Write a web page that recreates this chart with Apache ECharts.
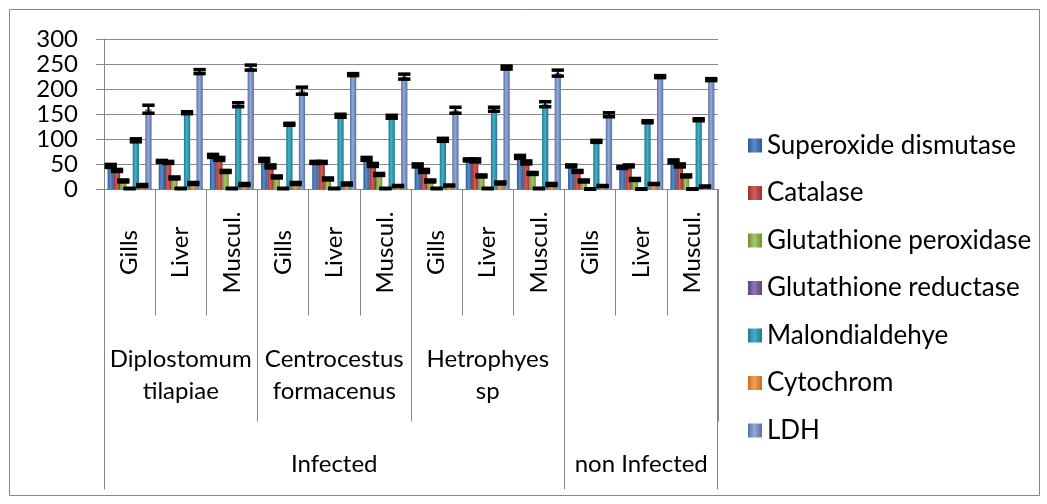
<!DOCTYPE html>
<html>
<head>
<meta charset="utf-8">
<style>
  html, body { margin: 0; padding: 0; background: #fff; }
  #main { width: 1047px; height: 504px; }
</style>
<script src="https://cdn.jsdelivr.net/npm/echarts@6/dist/echarts.min.js"></script>
</head>
<body>
<div id="main"></div>
<script>
// 分类
var organs = ['Gills', 'Liver', 'Muscul.', 'Gills', 'Liver', 'Muscul.', 'Gills', 'Liver', 'Muscul.', 'Gills', 'Liver', 'Muscul.'];
var parasites = ['Diplostomum\ntilapiae', 'Centrocestus\nformacenus', 'Hetrophyes\nsp', ''];
var groupNames = ['Infected', 'non Infected'];
var groupStart = [0, 9];   // 每组起始分类
var groupEnd = [9, 12];
var yTicks = [0, 300, 50];

var names = ['Superoxide dismutase', 'Catalase', 'Glutathione peroxidase', 'Glutathione reductase', 'Malondialdehye', 'Cytochrom', 'LDH'];

// 数值
var sod = [47, 56, 67, 59, 54, 61, 48, 59, 65, 47, 44, 56];
var cat = [38, 54, 61, 46, 54, 49, 37, 58, 54, 36, 47, 48];
var gpx = [17, 23, 36, 25, 21, 30, 17, 27, 32, 17, 20, 27];
var gr  = [2, 2, 2, 2, 2, 2, 2, 2, 2, 1, 1, 1];
var mda = [98, 153, 169, 130, 147, 145, 99, 160, 170, 96, 135, 139];
var cyt = [8, 12, 10, 12, 11, 7, 8, 13, 10, 7, 11, 6];
var ldh = [160, 235, 243, 197, 229, 225, 158, 243, 232, 149, 225, 219];

// 误差
var errSod = [3, 2, 3, 3, 2, 3, 3, 2, 3, 2, 2, 3];
var errCat = [2, 2, 3, 3, 2, 3, 3, 3, 3, 2, 2, 3];
var errGpx = [2, 2, 2, 2, 2, 2, 2, 2, 2, 2, 2, 2];
var errGr  = [0.5, 0.5, 0.5, 0.5, 0.5, 0.5, 0.5, 0.5, 0.5, 0.5, 0.5, 0.5];
var errMda = [3, 2, 4, 2, 3, 3, 3, 4, 5, 2, 2, 2];
var errCyt = [2, 2, 2, 2, 2, 1, 1, 2, 2, 1, 1, 1];
var errLdh = [8, 4, 5, 7, 2, 5, 6, 3, 6, 4, 2, 2];

var values = [sod, cat, gpx, gr, mda, cyt, ldh];
var errs = [errSod, errCat, errGpx, errGr, errMda, errCyt, errLdh];

var colors = [
    ['#2a5892', '#5a8ccc'],
    ['#982e2b', '#d2605c'],
    ['#6f8c35', '#a8c866'],
    ['#5b437c', '#8f74b2'],
    ['#1b7a8f', '#45afc8'],
    ['#c66d1c', '#f5a15a'],
    ['#5870a4', '#93a9d6']
];

var GAP = 0.14;
var fontFam = 'Lato, "Open Sans", sans-serif';

var myChart = echarts.init(document.getElementById('main'));

var series = names.map(function (n, i) {
    return {
        name: n,
        type: 'bar',
        xAxisIndex: 0,
        barGap: '0%',
        barCategoryGap: (GAP * 100) + '%',
        itemStyle: {
            color: new echarts.graphic.LinearGradient(0, 0, 1, 0, [
                {offset: 0, color: colors[i][0]},
                {offset: 0.45, color: colors[i][1]},
                {offset: 1, color: colors[i][0]}
            ])
        },
        data: values[i]
    };
});

var errData = [];
values.forEach(function (vals, k) {
    vals.forEach(function (v, c) {
        errData.push([c, k, v, errs[k][c]]);
    });
});

// 误差线
series.push({
    type: 'custom',
    xAxisIndex: 0,
    silent: true,
    z: 10,
    data: errData,
    renderItem: function (params, api) {
        var c = api.value(0), k = api.value(1), v = api.value(2), e = api.value(3);
        var p = api.coord([c, v]);
        var bandW = api.size([1, 0])[0];
        var usable = bandW * (1 - GAP);
        var bw = usable / names.length;
        var x = p[0] - usable / 2 + (k + 0.5) * bw;
        var yT = api.coord([c, v + e])[1];
        var yB = api.coord([c, Math.max(v - e, 0)])[1];
        var hw = bw / 2 + 3;
        var st = {stroke: '#000', lineWidth: 3.5};
        return {
            type: 'group',
            children: [
                {type: 'line', shape: {x1: x, y1: yT, x2: x, y2: yB}, style: {stroke: '#000', lineWidth: 2}},
                {type: 'line', shape: {x1: x - hw, y1: yT, x2: x + hw, y2: yT}, style: st},
                {type: 'line', shape: {x1: x - hw, y1: yB, x2: x + hw, y2: yB}, style: st}
            ]
        };
    }
});

var groupMid = groupNames.map(function (g, i) { return (groupStart[i] + groupEnd[i]) / 2; });
var tickStyle = {color: '#868686'};

var option = {
    animation: false,
    color: colors.map(function (c) { return c[1]; }),
    textStyle: {fontFamily: fontFam},
    grid: {left: 104, right: 329, top: 39, bottom: 314.5},
    legend: {
        orient: 'vertical',
        left: 748,
        top: 132,
        padding: 0,
        itemWidth: 14,
        itemHeight: 14,
        itemGap: 20.5,
        icon: 'rect',
        data: names,
        textStyle: {fontSize: 26, color: '#000', fontFamily: fontFam, lineHeight: 27}
    },
    xAxis: [
        {
            type: 'category',
            data: organs,
            axisLine: {lineStyle: tickStyle},
            axisTick: {show: true, length: 126, interval: 0, lineStyle: tickStyle},
            axisLabel: {rotate: 90, align: 'center', margin: 63, interval: 0, fontSize: 24, color: '#000'}
        },
        {
            type: 'category',
            data: parasites,
            position: 'bottom',
            axisLine: {show: false},
            axisTick: {show: true, length: 232, interval: 0, lineStyle: tickStyle},
            axisLabel: {interval: 0, margin: 154, fontSize: 24, lineHeight: 32, color: '#000'}
        },
        {
            type: 'value',
            min: 0,
            max: organs.length,
            position: 'bottom',
            axisLine: {show: false},
            splitLine: {show: false},
            axisTick: {show: true, length: 300, customValues: groupStart, lineStyle: tickStyle},
            axisLabel: {
                customValues: groupMid, margin: 262, fontSize: 24, lineHeight: 26, color: '#000',
                formatter: function (v) {
                    var i = groupMid.indexOf(v);
                    return i >= 0 ? groupNames[i] : '';
                }
            }
        },
        {
            // 右侧外框线: 轴范围略大, 末端刻度不被过滤
            type: 'value',
            min: 0,
            max: organs.length + 0.01,
            position: 'bottom',
            axisLine: {show: false},
            splitLine: {show: false},
            axisLabel: {show: false},
            axisTick: {show: true, length: 300, customValues: [groupEnd[groupEnd.length - 1]], lineStyle: tickStyle}
        }
    ],
    yAxis: {
        type: 'value',
        min: yTicks[0],
        max: yTicks[1],
        interval: yTicks[2],
        axisLine: {show: true, lineStyle: tickStyle},
        axisTick: {show: true, length: 8, lineStyle: tickStyle},
        axisLabel: {margin: 26, fontSize: 24, color: '#000'},
        splitLine: {lineStyle: {color: '#8c8c8c', width: 1}}
    },
    graphic: [
        {type: 'rect', shape: {x: 9.5, y: 9.5, width: 1030, height: 486}, style: {fill: null, stroke: '#868686', lineWidth: 1}, silent: true}
    ],
    series: series
};

myChart.setOption(option);
</script>
</body>
</html>
